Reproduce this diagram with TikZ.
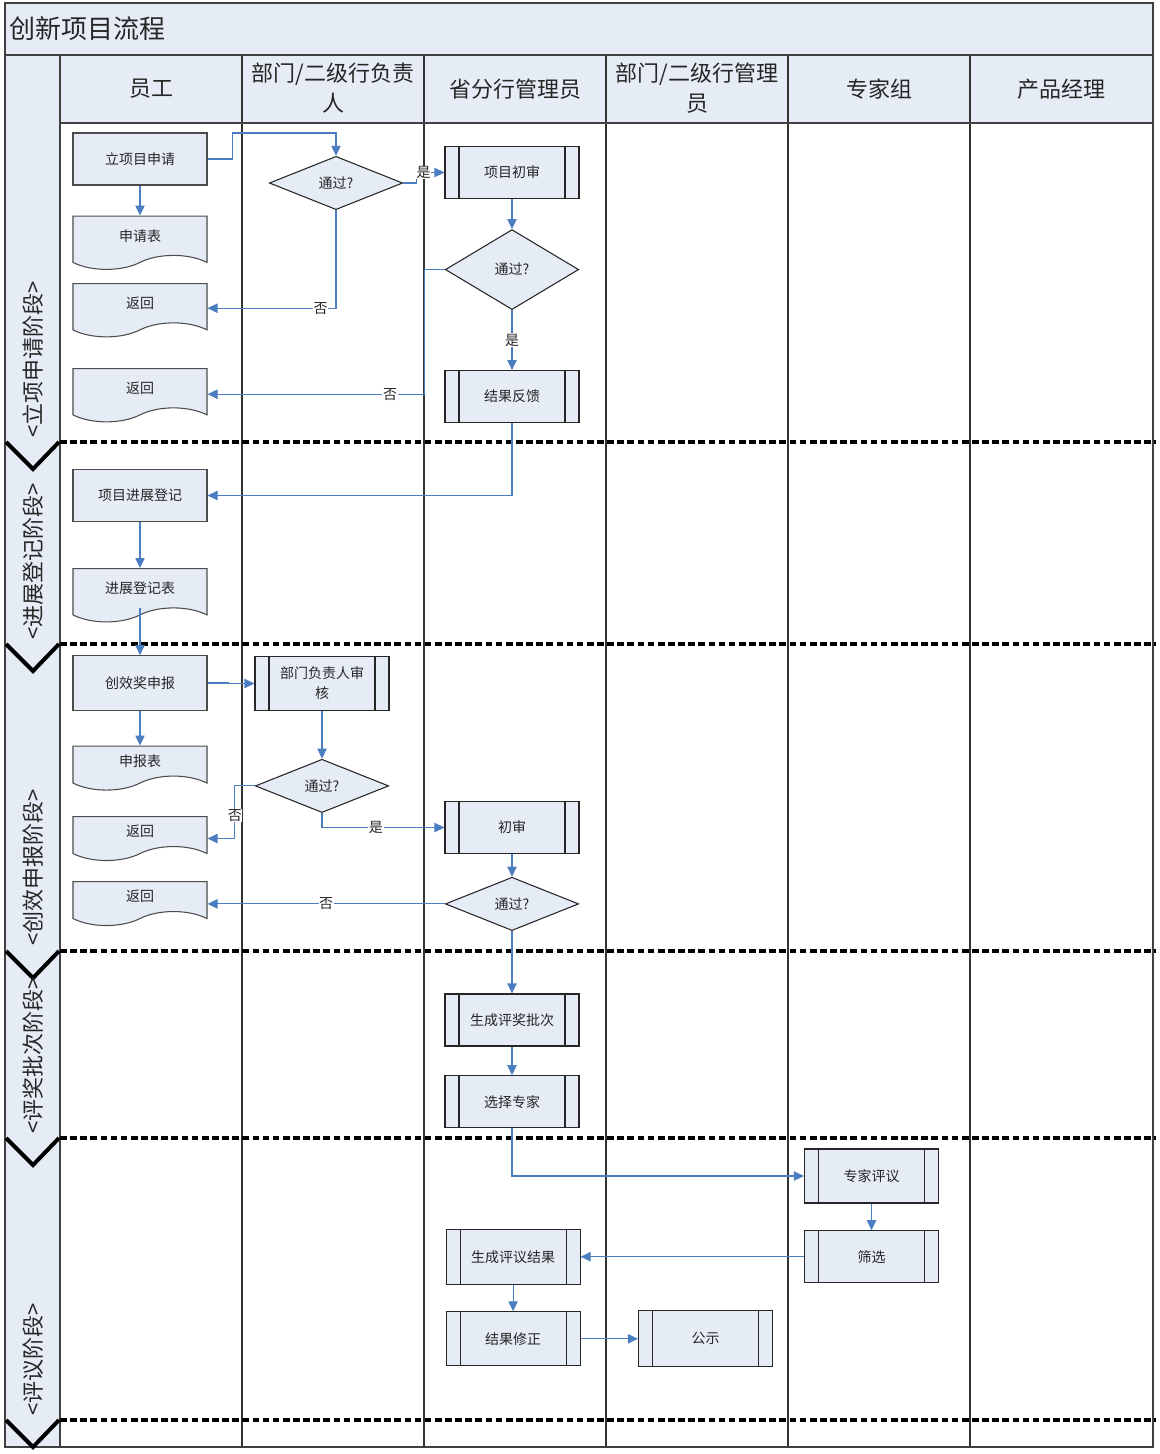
\documentclass[tikz,border=0pt]{standalone}
\usepackage{fontspec}
\setmainfont{Noto Sans CJK SC}
\usepackage{tikz}
\usetikzlibrary{shapes.geometric,shapes.symbols,arrows.meta,positioning}
\definecolor{boxblue}{RGB}{230,236,246}
\definecolor{flowblue}{RGB}{74,126,193}

\begin{document}
\begin{tikzpicture}[
        x=0.75pt, y=-0.75pt,
        rect/.style={rectangle, draw=black!70, line width=0.8pt, fill=boxblue, minimum width=100.5pt, minimum height=39pt, inner sep=2pt, text=black!85, align=center, font=\fontsize{10.5}{15}\selectfont}, % 普通处理框
        proc/.style={rect, draw=black!85, path picture={
            \draw[black!85, line width=0.8pt] ([xshift=10.5pt]path picture bounding box.north west) -- ([xshift=10.5pt]path picture bounding box.south west);
            \draw[black!85, line width=0.8pt] ([xshift=-10.5pt]path picture bounding box.north east) -- ([xshift=-10.5pt]path picture bounding box.south east);}}, % 子流程框
        doc/.style={tape, tape bend top=none, tape bend bottom=in and out, tape bend height=10.5pt, draw=black!70, line width=0.8pt, fill=boxblue, minimum width=100.5pt, minimum height=40pt, inner sep=2pt, anchor=north, text=black!85, font=\fontsize{10.5}{15}\selectfont}, % 文档
        shortdoc/.style={doc, minimum height=33pt},
        decide/.style={diamond, draw=black!85, line width=0.8pt, fill=boxblue, minimum width=100pt, minimum height=40pt, inner sep=0pt, text=black!85, font=\fontsize{10.5}{15}\selectfont},
        arrow/.style={draw=flowblue, line width=0.8pt, ->, >={Triangle[length=7.5pt,width=7pt]}},
        lbl/.style={fill=white, inner sep=0.5pt, text=black!85, font=\fontsize{10.5}{12}\selectfont},
        head/.style={align=center, text=black!85, font=\fontsize{16.5}{22.5}\selectfont},
        stage/.style={rotate=90, anchor=west, inner sep=0pt, text=black!85, font=\fontsize{16.5}{16.5}\selectfont},
        frame/.style={draw=black!75, line width=1.1pt},
        lane/.style={draw=black!80, line width=1pt},
        phase/.style={draw=black, line width=2.8pt, dash pattern=on 5pt off 2.6pt},
        chev/.style={draw=black, line width=3pt}
    ]
    \useasboundingbox (0,0) rectangle (1160,1454);

    % 泳道表格
    \fill[boxblue] (5,3) rectangle (1153,55);
    \fill[boxblue] (60,55) rectangle (1153,123);
    \fill[boxblue] (5,55) rectangle (60,1447);
    \foreach \x in {242,424,606,788,970}
        \draw[lane] (\x,55) -- (\x,1447);
    \draw[frame] (60,55) -- (60,1447);
    \draw[frame] (60,123) -- (1153,123);
    \draw[frame] (5,55) -- (1153,55);
    \draw[frame] (5,3) rectangle (1153,1447);

    % 阶段分隔线
    \foreach \y in {442,644,951,1138,1420} {
        \draw[phase] (60,\y) -- (1156,\y);
        \draw[chev] (6,\y) -- (33,\y+27) -- (59,\y);
    }

    % 标题与表头
    \node (title) [anchor=west, inner sep=0pt, text=black!85, font=\fontsize{19.5}{20}\selectfont] at (9,29) {创新项目流程};
    \node (h1) [head] at (151,89) {员工};
    \node (h2) [head] at (333,88) {部门/二级行负责\\人};
    \node (h3) [head] at (515,89) {省分行管理员};
    \node (h4) [head] at (697,88) {部门/二级行管理\\员};
    \node (h5) [head] at (879,89) {专家组};
    \node (h6) [head] at (1061,89) {产品经理};

    % 阶段名称
    \node (p1) [stage] at (33,438) {<立项申请阶段>};
    \node (p2) [stage] at (33,640) {<进展登记阶段>};
    \node (p3) [stage] at (33,946) {<创效申报阶段>};
    \node (p4) [stage] at (33,1134) {<评奖批次阶段>};
    \node (p5) [stage] at (33,1416) {<评议阶段>};

    % 立项申请阶段
    \node (lxsq) [rect] at (140,159) {立项目申请};
    \node (sqb) [doc, below=22.5pt of lxsq] {申请表};
    \node (fh1) [doc] at (140,283) {返回};
    \node (fh2) [doc] at (140,368) {返回};
    \node (d1) [decide, minimum height=40pt] at (336,183) {通过?};
    \node (xmcs) [proc] at (512,172.5) {项目初审};
    \node (d2) [decide, minimum height=60pt, below=22.5pt of xmcs] {通过?};
    \node (jgfk) [proc, below=45pt of d2] {结果反馈};

    % 进展登记阶段
    \node (xmjz) [rect] at (140,495.5) {项目进展登记};
    \node (djb) [doc, below=34.5pt of xmjz] {进展登记表};

    % 创效申报阶段
    \node (cxjsb) [rect, minimum height=41pt] at (140,683) {创效奖申报};
    \node (sbb) [shortdoc, below=26pt of cxjsb] {申报表};
    \node (fh3) [shortdoc] at (140,816) {返回};
    \node (fh4) [shortdoc] at (140,881) {返回};
    \node (bmsh) [proc, minimum height=40pt] at (322,683.5) {部门负责人审\\核};
    \node (d3) [decide, below=36pt of bmsh] {通过?};
    \node (cs) [proc] at (512,827.5) {初审};
    \node (d4) [decide, below=17pt of cs] {通过?};

    % 评奖批次阶段
    \node (scpc) [proc] at (512,1020) {生成评奖批次};
    \node (xzzj) [proc, below=21.5pt of scpc] {选择专家};

    % 评议阶段
    \node (zjpy) [proc, minimum height=40.5pt] at (871.5,1176) {专家评议};
    \node (sx) [proc, below=20pt of zjpy] {筛选};
    \node (scjg) [proc, minimum height=41pt, left=167.5pt of sx] {生成评议结果};
    \node (jgxz) [proc, minimum height=40.5pt, below=20pt of scjg] {结果修正};
    \node (gs) [proc, minimum height=42pt, right=43pt of jgxz] {公示};

    % 连接线
    \draw[arrow] (lxsq.east) -- ++(25,0) -- ++(0,-26) -| (d1.north);
    \draw[arrow] (lxsq.south) -- (sqb.north);
    \draw[arrow] (d1.east) -- ++(13,0) |- node[lbl, pos=0.63] {是} (xmcs.west);
    \draw[arrow] (d1.south) |- node[lbl, pos=0.56] {否} ([yshift=-3.75pt]fh1.east);
    \draw[arrow] (xmcs.south) -- (d2.north);
    \draw[arrow] (d2.west) -- ++(-20,0) |- node[lbl, pos=0.58] {否} ([yshift=-4.5pt]fh2.east);
    \draw[arrow] (d2.south) -- node[lbl] {是} (jgfk.north);
    \draw[arrow] (jgfk.south) |- (xmjz.east);
    \draw[arrow] (xmjz.south) -- (djb.north);
    \draw[arrow] (djb.south) -- (cxjsb.north);
    \draw[arrow] (cxjsb.east) -- ++(21,0) |- (bmsh.west);
    \draw[arrow] (cxjsb.south) -- (sbb.north);
    \draw[arrow] (bmsh.south) -- (d3.north);
    \draw[arrow] (d3.west) -- ++(-20,0) |- node[lbl, pos=0.28] {否} ([yshift=-5.25pt]fh3.east);
    \draw[arrow] (d3.south) |- node[lbl, pos=0.72] {是} (cs.west);
    \draw[arrow] (cs.south) -- (d4.north);
    \draw[arrow] (d4.west) -- node[lbl, pos=0.5] {否} (d4.west -| fh4.east);
    \draw[arrow] (d4.south) -- (scpc.north);
    \draw[arrow] (scpc.south) -- (xzzj.north);
    \draw[arrow] (xzzj.south) |- (zjpy.west);
    \draw[arrow] (zjpy.south) -- (sx.north);
    \draw[arrow] (sx.west) -- (scjg.east);
    \draw[arrow] (scjg.south) -- (jgxz.north);
    \draw[arrow] (jgxz.east) -- (gs.west);
\end{tikzpicture}
\end{document}
